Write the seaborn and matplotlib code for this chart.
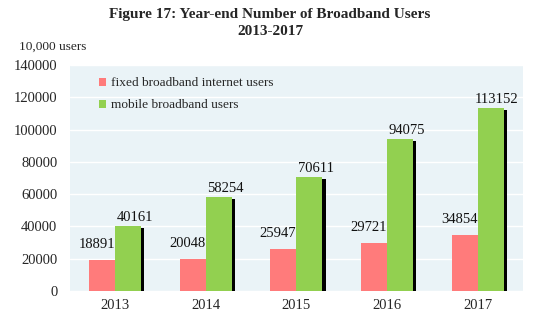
import matplotlib
matplotlib.use("Agg")
import matplotlib.pyplot as plt
import matplotlib.patheffects as pe
import seaborn as sns
import pandas as pd

years = ["2013", "2014", "2015", "2016", "2017"]
fixed = [18891, 20048, 25947, 29721, 34854]
mobile = [40161, 58254, 70611, 94075, 113152]
series_names = ["fixed broadband internet users", "mobile broadband users"]
y_ticks = [0, 20000, 40000, 60000, 80000, 100000, 120000, 140000]

df = pd.DataFrame({
    "year": years * 2,
    "value": fixed + mobile,
    "series": [series_names[0]] * 5 + [series_names[1]] * 5,
})

sns.set_style("white")
plt.rcParams["font.family"] = ["Liberation Serif", "DejaVu Serif"]

fig = plt.figure(figsize=(5.38, 3.22), dpi=100)
ax = fig.add_axes([0.130, 0.0963, 0.842, 0.702])
ax.set_facecolor("#EAF3F7")

palette = {series_names[0]: "#FF7B7B", series_names[1]: "#92D050"}
sns.barplot(data=df, x="year", y="value", hue="series", palette=palette,
            width=0.575, ax=ax, saturation=1, linewidth=0, zorder=3)

# shadow on green bars
green_bars = ax.containers[1]
for bar in green_bars:
    bar.set_path_effects([pe.SimplePatchShadow(offset=(2.3, -1.2), shadow_rgbFace="black", alpha=1.0), pe.Normal()])

offsets = [(-4.0, 6.5), (4.5, 1.5)]
for cont, vals, off in zip(ax.containers, [fixed, mobile], offsets):
    anns = ax.bar_label(cont, labels=[str(v) for v in vals], padding=0, fontsize=10.5, color="#111111")
    for a in anns:
        a.xyann = off

ax.set_ylim(0, 140000)
ax.set_yticks(y_ticks)
ax.set_yticklabels([str(t) for t in y_ticks], fontsize=10.5)
ax.tick_params(axis="x", labelsize=10.5, length=0, pad=6)
ax.tick_params(axis="y", length=0, pad=9)
ax.yaxis.grid(True, color="white", linewidth=1.0, zorder=0)
ax.set_axisbelow(True)
for s in ax.spines.values():
    s.set_visible(False)
ax.set_xlabel("")
ax.set_ylabel("")

leg = ax.legend(loc="upper left", bbox_to_anchor=(0.064, 0.945), frameon=False,
                fontsize=9.6, handlelength=0.55, handleheight=0.55,
                handletextpad=0.35, labelspacing=0.75, borderaxespad=0, borderpad=0)

fig.text(0.036, 0.835, "10,000 users", fontsize=9.6, ha="left", va="bottom")
fig.text(0.502, 0.975, "Figure 17: Year-end Number of Broadband Users\n2013-2017",
         fontsize=11, fontweight="bold", ha="center", va="top", linespacing=1.35)

fig.savefig("out.png", dpi=100)
